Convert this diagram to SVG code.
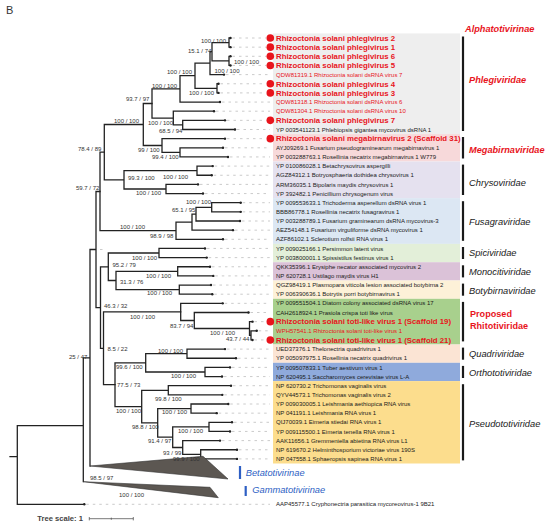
<svg xmlns="http://www.w3.org/2000/svg" width="550" height="528" viewBox="0 0 550 528">
<style>
text{font-family:"Liberation Sans",Arial,sans-serif}
.br{stroke:#222;stroke-width:1.3;fill:none;stroke-linecap:square}
.tip{fill:#222}
.dash{stroke:#b4b4b4;stroke-width:0.7;stroke-dasharray:2.5 4;fill:none}
.lb{font-size:6px;fill:#1a1a1a}
.rl{font-size:6px;fill:#e8141c}
.rb{font-size:7.8px;font-weight:bold;fill:#e8141c}
.dot{fill:#e8141c}
.bs{font-size:6px;fill:#333}
.fam{font-size:9.3px;font-style:italic;fill:#1a1a1a}
.famr{font-size:9.2px;font-style:italic;font-weight:bold;fill:#e8141c}
.famb{font-size:9.3px;font-style:italic;fill:#2e5fc4}
.bar{stroke:#1a1a1a;stroke-width:2.2}
.bbar{stroke:#2e5fc4;stroke-width:2.2}
.wedge{fill:#5c5752;stroke:#333;stroke-width:0.6}
</style>
<rect width="550" height="528" fill="#fff"/>
<text x="6" y="13.5" font-size="11" fill="#333">B</text>

<g id="bands">
<rect x="273" y="33.4" width="187" height="100.7" fill="#eeeeee"/>
<rect x="273" y="134.1" width="187" height="27.4" fill="#f7d9da"/>
<rect x="273" y="161.5" width="187" height="36.6" fill="#e5e1ef"/>
<rect x="273" y="198.1" width="187" height="45.8" fill="#dce7f3"/>
<rect x="273" y="243.9" width="187" height="18.3" fill="#e3efd9"/>
<rect x="273" y="262.2" width="187" height="18.3" fill="#dbc2d8"/>
<rect x="273" y="280.5" width="187" height="18.3" fill="#fdf1d8"/>
<rect x="273" y="298.8" width="187" height="45.7" fill="#a8d08d"/>
<rect x="273" y="344.5" width="187" height="18.3" fill="#fbe4d4"/>
<rect x="273" y="362.8" width="187" height="18.3" fill="#8faadc"/>
<rect x="273" y="381.1" width="187" height="82.4" fill="#fcdd8d"/>
</g>

<g id="connectors">
<path class="br" d="M229 38V47.15M229 38H230.5M229 47.15H230.5M229 56.3V65.45M229 56.3H230.5M229 65.45H230.5M212 42.6V60.9M212 42.6H229M212 60.9H229M210 51.7V74.6M210 51.7H212M210 74.6H224M217 83.75V92.9M217 83.75H218.5M217 92.9H218.5M195 63.2V88.3M195 63.2H210M195 88.3H217M180 75.7V102.05M180 75.7H195M180 102.05H220M182.7 120.35V129.5M182.7 120.35H225M182.7 129.5H235M173.3 111.2V124.9M173.3 111.2H214M173.3 124.9H182.7M152 88.9V118.1M152 88.9H180M152 118.1H173.3"/>
<path class="br" d="M180 147.8V156.95M180 147.8H223M180 156.95H228M162 138.65V152.4M162 138.65H225M162 152.4H180M143.3 103.5V145.5M143.3 103.5H152M143.3 145.5H162M197 166.1V175.25M197 166.1H212.7M197 175.25H211.7M166 184.4V193.55M166 184.4H198M166 193.55H203M124 170.7V189M124 170.7H197M124 189H166M104.3 124.5V179.8M104.3 124.5H143.3M104.3 179.8H124"/>
<path class="br" d="M211.7 202.7V211.85M211.7 202.7H240.7M211.7 211.85H240.7M196 207.3V221M196 207.3H211.7M196 221H240M192 214.1V230.15M192 214.1H196M192 230.15H233M176 222.1V239.3M176 222.1H192M176 239.3H223M100 152.2V230.7M100 152.2H104.3M100 230.7H176"/>
<path class="br" d="M159 248.45V257.6M159 248.45H205M159 257.6H206.7M177.7 266.75V275.9M177.7 266.75H210M177.7 275.9H213.3M179.3 285.05V294.2M179.3 285.05H211M179.3 294.2H212.3M116 271.3V289.6M116 271.3H177.7M116 289.6H179.3M108.3 253V280.5M108.3 253H159M108.3 280.5H116"/>
<path class="br" d="M251 330.8V339.95M251 330.8H256.7M251 339.95H252.5M249.5 321.65V335.4M249.5 321.65H252.5M249.5 335.4H251M194.3 312.5V328.5M194.3 312.5H248.5M194.3 328.5H249.5M180.7 303.35V320.5M180.7 303.35H222.7M180.7 320.5H194.3"/>
<path class="br" d="M187 349.1V358.25M187 349.1H225M187 358.25H236M205 367.4V376.55M205 367.4H230M205 376.55H222M145.7 353.7V372M145.7 353.7H187M145.7 372H205M168.3 385.7V394.85M168.3 385.7H231M168.3 394.85H222.3M191 404V413.15M191 404H228.3M191 413.15H216.7M209 422.3V431.45M209 422.3H232M209 431.45H230M200.7 449.75V458.9M200.7 449.75H237M200.7 458.9H237M182.7 440.6V454.3M182.7 440.6H220M182.7 454.3H200.7M172.7 426.9V447.5M172.7 426.9H209M172.7 447.5H182.7M157.7 408.6V437.2M157.7 408.6H191M157.7 437.2H172.7M141.7 390.3V422.9M141.7 390.3H168.3M141.7 422.9H157.7M115 362.8V406.6M115 362.8H145.7M115 406.6H141.7"/>
<path class="br" d="M103.5 311.9V384.7M103.5 311.9H180.7M103.5 384.7H115M100.5 266.8V348.3M100.5 266.8H108.3M100.5 348.3H103.5M96 191.5V307.6M96 191.5H100M96 307.6H100.5M90 249.5V466M90 249.5H96M83.3 357.8V481.7M83.3 357.8H90M17.3 425.7V504.3M17.3 425.7H83.3M17.3 504.3H84.3M10 456.7H17.3"/>
<path class="dash" d="M100 249.5H106"/>
<polygon class="wedge" points="90,466 203,456.3 228,479"/>
<polygon class="wedge" points="83.3,481.7 210,487.3 218.3,497.7"/>
<g class="tip">
<circle cx="230.5" cy="38" r="1.2"/><circle cx="230.5" cy="47.15" r="1.2"/><circle cx="230.5" cy="56.3" r="1.2"/><circle cx="230.5" cy="65.45" r="1.2"/><circle cx="224" cy="74.6" r="1.2"/><circle cx="218.5" cy="83.75" r="1.2"/><circle cx="218.5" cy="92.9" r="1.2"/><circle cx="220" cy="102.05" r="1.2"/><circle cx="214" cy="111.2" r="1.2"/><circle cx="225" cy="120.35" r="1.2"/><circle cx="235" cy="129.5" r="1.2"/><circle cx="225" cy="138.65" r="1.2"/><circle cx="223" cy="147.8" r="1.2"/><circle cx="228" cy="156.95" r="1.2"/><circle cx="212.7" cy="166.1" r="1.2"/><circle cx="211.7" cy="175.25" r="1.2"/><circle cx="198" cy="184.4" r="1.2"/><circle cx="203" cy="193.55" r="1.2"/><circle cx="240.7" cy="202.7" r="1.2"/><circle cx="240.7" cy="211.85" r="1.2"/><circle cx="240" cy="221" r="1.2"/><circle cx="233" cy="230.15" r="1.2"/><circle cx="223" cy="239.3" r="1.2"/><circle cx="205" cy="248.45" r="1.2"/><circle cx="206.7" cy="257.6" r="1.2"/><circle cx="210" cy="266.75" r="1.2"/><circle cx="213.3" cy="275.9" r="1.2"/><circle cx="211" cy="285.05" r="1.2"/><circle cx="212.3" cy="294.2" r="1.2"/><circle cx="222.7" cy="303.35" r="1.2"/><circle cx="248.5" cy="312.5" r="1.2"/><circle cx="252.5" cy="321.65" r="1.2"/><circle cx="256.7" cy="330.8" r="1.2"/><circle cx="252.5" cy="339.95" r="1.2"/><circle cx="225" cy="349.1" r="1.2"/><circle cx="236" cy="358.25" r="1.2"/><circle cx="230" cy="367.4" r="1.2"/><circle cx="222" cy="376.55" r="1.2"/><circle cx="231" cy="385.7" r="1.2"/><circle cx="222.3" cy="394.85" r="1.2"/><circle cx="228.3" cy="404" r="1.2"/><circle cx="216.7" cy="413.15" r="1.2"/><circle cx="232" cy="422.3" r="1.2"/><circle cx="230" cy="431.45" r="1.2"/><circle cx="220" cy="440.6" r="1.2"/><circle cx="237" cy="449.75" r="1.2"/><circle cx="237" cy="458.9" r="1.2"/><circle cx="84.3" cy="504.3" r="1.2"/>
</g>
<path class="dash" d="M232.5 38H266M232.5 47.15H266M232.5 56.3H266M232.5 65.45H266M226 74.6H270M220.5 83.75H266M220.5 92.9H266M222 102.05H270M216 111.2H270M227 120.35H266M237 129.5H270M227 138.65H266M225 147.8H270M230 156.95H270M214.7 166.1H270M213.7 175.25H270M200 184.4H270M205 193.55H270M242.7 202.7H270M242.7 211.85H270M242 221H270M235 230.15H270M225 239.3H270M207 248.45H270M208.7 257.6H270M212 266.75H270M215.3 275.9H270M213 285.05H270M214.3 294.2H270M224.7 303.35H270M250.5 312.5H270M254.5 321.65H266M258.7 330.8H270M254.5 339.95H266M227 349.1H270M238 358.25H270M232 367.4H270M224 376.55H270M233 385.7H270M224.3 394.85H270M230.3 404H270M218.7 413.15H270M234 422.3H270M232 431.45H270M222 440.6H270M239 449.75H270M239 458.9H270M86.3 504.3H270"/>
</g>

<g id="support-values" class="bs">
<text x="201" y="42.8">100 / 100</text>
<text x="188" y="52.8">15.1 / 74</text>
<text x="234" y="64.1">100 / 100</text>
<text x="214.5" y="72.6">100 / 100</text>
<text x="167" y="74.1">100 / 100</text>
<text x="189" y="95.1">100 / 100</text>
<text x="152" y="88.1">100 / 100</text>
<text x="126" y="101.4">93.7 / 97</text>
<text x="148" y="124.6">100 / 100</text>
<text x="114" y="122.8">100 / 100</text>
<text x="159" y="132.8">68.5 / 94</text>
<text x="78" y="151.4">78.4 / 89</text>
<text x="138" y="152.1">99 / 100</text>
<text x="152" y="159.4">99.4 / 100</text>
<text x="163" y="178.8">100 / 100</text>
<text x="128" y="180.4">99.3 / 100</text>
<text x="76" y="190.1">59.7 / 72</text>
<text x="136" y="195.4">100 / 100</text>
<text x="186" y="204.4">100 / 100</text>
<text x="172" y="212.1">65.1 / 95</text>
<text x="120" y="229.4">100 / 100</text>
<text x="150" y="237.8">98.9 / 98</text>
<text x="132" y="260.4">100 / 100</text>
<text x="112.5" y="267.4">95.2 / 79</text>
<text x="146" y="278.1">100 / 100</text>
<text x="120" y="284.4">31.3 / 76</text>
<text x="147" y="295.4">100 / 100</text>
<text x="104" y="308.1">46.3 / 32</text>
<text x="130" y="318.8">100 / 100</text>
<text x="170" y="327.8">83.7 / 94</text>
<text x="210" y="335.2">100 / 100</text>
<text x="226" y="341.1">43.7 / 44</text>
<text x="107.5" y="350.6">8.5 / 22</text>
<text x="158" y="352.8">100 / 100</text>
<text x="69" y="359.4">25 / 47</text>
<text x="116" y="368.8">99.6 / 100</text>
<text x="171" y="378.1">100 / 100</text>
<text x="117" y="387.1">77.5 / 73</text>
<text x="155" y="401.1">99.8 / 100</text>
<text x="116" y="412.8">100 / 100</text>
<text x="162" y="414.4">100 / 100</text>
<text x="132" y="428.8">98.8 / 100</text>
<text x="178" y="433.1">100 / 100</text>
<text x="148" y="443.1">91.4 / 97</text>
<text x="163" y="454.8">93 / 99</text>
<text x="173" y="461.1">99.9 / 100</text>
<text x="90" y="479.8">98.5 / 97</text>
<text x="119" y="497.4">100 / 100</text>
</g>

<g id="leaves">
<g id="leaf01"><circle class="dot" cx="270.3" cy="38" r="3.8"/><text class="rb" x="276" y="40.8">Rhizoctonia solani phlegivirus 2</text></g>
<g id="leaf02"><circle class="dot" cx="270.3" cy="47.15" r="3.8"/><text class="rb" x="276" y="49.95">Rhizoctonia solani phlegivirus 1</text></g>
<g id="leaf03"><circle class="dot" cx="270.3" cy="56.3" r="3.8"/><text class="rb" x="276" y="59.1">Rhizoctonia solani phlegivirus 6</text></g>
<g id="leaf04"><circle class="dot" cx="270.3" cy="65.45" r="3.8"/><text class="rb" x="276" y="68.25">Rhizoctonia solani phlegivirus 5</text></g>
<g id="leaf05"><text class="rl" x="276" y="76.7">QDW81319.1 Rhizoctonia solani dsRNA virus 7</text></g>
<g id="leaf06"><circle class="dot" cx="270.3" cy="83.75" r="3.8"/><text class="rb" x="276" y="86.55">Rhizoctonia solani phlegivirus 4</text></g>
<g id="leaf07"><circle class="dot" cx="270.3" cy="92.9" r="3.8"/><text class="rb" x="276" y="95.7">Rhizoctonia solani phlegivirus 3</text></g>
<g id="leaf08"><text class="rl" x="276" y="104.15">QDW81318.1 Rhizoctonia solani dsRNA virus 6</text></g>
<g id="leaf09"><text class="rl" x="276" y="113.3">QDW81304.1 Rhizoctonia solani dsRNA virus 10</text></g>
<g id="leaf10"><circle class="dot" cx="270.3" cy="120.35" r="3.8"/><text class="rb" x="276" y="123.15">Rhizoctonia solani phlegivirus 7</text></g>
<g id="leaf11"><text class="lb" x="276" y="131.6">YP 003541123.1 Phlebiopsis gigantea mycovirus dsRNA 1</text></g>
<g id="leaf12"><circle class="dot" cx="270.3" cy="138.65" r="3.8"/><text class="rb" x="276" y="141.45">Rhizoctonia solani megabirnavirus 2 (Scaffold 31)</text></g>
<g id="leaf13"><text class="lb" x="276" y="149.9">AYJ09269.1 Fusarium pseudograminearum megabirnavirus 1</text></g>
<g id="leaf14"><text class="lb" x="276" y="159.05">YP 003288763.1 Rosellinia necatrix megabirnavirus 1 W779</text></g>
<g id="leaf15"><text class="lb" x="276" y="168.2">YP 010086028.1 Betachrysovirus aspergilli</text></g>
<g id="leaf16"><text class="lb" x="276" y="177.35">AGZ84312.1 Botryosphaeria dothidea chrysovirus 1</text></g>
<g id="leaf17"><text class="lb" x="276" y="186.5">ARM36035.1 Bipolaris maydis chrysovirus 1</text></g>
<g id="leaf18"><text class="lb" x="276" y="195.65">YP 392482.1 Penicillium chrysogenum virus</text></g>
<g id="leaf19"><text class="lb" x="276" y="204.8">YP 009553633.1 Trichoderma asperellum dsRNA virus 1</text></g>
<g id="leaf20"><text class="lb" x="276" y="213.95">BBB86778.1 Rosellinia necatrix fusagravirus 1</text></g>
<g id="leaf21"><text class="lb" x="276" y="223.1">YP 003288789.1 Fusarium graminearum dsRNA mycovirus-3</text></g>
<g id="leaf22"><text class="lb" x="276" y="232.25">AEZ54148.1 Fusarium virguliforme dsRNA mycovirus 1</text></g>
<g id="leaf23"><text class="lb" x="276" y="241.4">AZF86102.1 Sclerotium rolfsii RNA virus 1</text></g>
<g id="leaf24"><text class="lb" x="276" y="250.55">YP 009025166.1 Persimmon latent virus</text></g>
<g id="leaf25"><text class="lb" x="276" y="259.7">YP 003800001.1 Spissistilus festinus virus 1</text></g>
<g id="leaf26"><text class="lb" x="276" y="268.85">QKK35396.1 Erysiphe necator associated mycovirus 2</text></g>
<g id="leaf27"><text class="lb" x="276" y="278">NP 620728.1 Ustilago maydis virus H1</text></g>
<g id="leaf28"><text class="lb" x="276" y="287.15">QGZ98419.1 Plasmopara viticola lesion associated botybirna 2</text></g>
<g id="leaf29"><text class="lb" x="276" y="296.3">YP 006390636.1 Botrytis porri botybirnavirus 1</text></g>
<g id="leaf30"><text class="lb" x="276" y="305.45">YP 009551504.1 Diatom colony associated dsRNA virus 17</text></g>
<g id="leaf31"><text class="lb" x="276" y="314.6">CAH2618924.1 Prasiola crispa toti like virus</text></g>
<g id="leaf32"><circle class="dot" cx="270.3" cy="321.65" r="3.8"/><text class="rb" x="276" y="324.45">Rhizoctonia solani toti-like virus 1 (Scaffold 19)</text></g>
<g id="leaf33"><text class="rl" x="276" y="332.9">WPH57541.1 Rhizoctonia solani toti-like virus 1</text></g>
<g id="leaf34"><circle class="dot" cx="270.3" cy="339.95" r="3.8"/><text class="rb" x="276" y="342.75">Rhizoctonia solani toti-like virus 1 (Scaffold 21)</text></g>
<g id="leaf35"><text class="lb" x="276" y="351.2">UED37376.1 Thelonectria quadrivirus 1</text></g>
<g id="leaf36"><text class="lb" x="276" y="360.35">YP 005097975.1 Rosellinia necatrix quadrivirus 1</text></g>
<g id="leaf37"><text class="lb" x="276" y="369.5">YP 009507833.1 Tuber aestivum virus 1</text></g>
<g id="leaf38"><text class="lb" x="276" y="378.65">NP 620495.1 Saccharomyces cerevisiae virus L-A</text></g>
<g id="leaf39"><text class="lb" x="276" y="387.8">NP 620730.2 Trichomonas vaginalis virus</text></g>
<g id="leaf40"><text class="lb" x="276" y="396.95">QYV44573.1 Trichomonas vaginalis virus 2</text></g>
<g id="leaf41"><text class="lb" x="276" y="406.1">YP 009030005.1 Leishmania aethiopica RNA virus</text></g>
<g id="leaf42"><text class="lb" x="276" y="415.25">NP 041191.1 Leishmania RNA virus 1</text></g>
<g id="leaf43"><text class="lb" x="276" y="424.4">QIJ70039.1 Eimeria stiedai RNA virus 1</text></g>
<g id="leaf44"><text class="lb" x="276" y="433.55">YP 009115500.1 Eimeria tenella RNA virus 1</text></g>
<g id="leaf45"><text class="lb" x="276" y="442.7">AAK11656.1 Gremmeniella abietina RNA virus L1</text></g>
<g id="leaf46"><text class="lb" x="276" y="451.85">NP 619670.2 Helminthosporium victoriae virus 190S</text></g>
<g id="leaf47"><text class="lb" x="276" y="461">NP 047558.1 Sphaeropsis sapinea RNA virus 1</text></g>
<g id="outgroup"><text class="lb" x="276" y="506.4">AAP45577.1 Cryphonectria parasitica mycoreovirus-1 9B21</text></g>
</g>

<g id="clade-labels">
<g id="alphatotivirinae"><text class="famr" x="465" y="31.6">Alphatotivirinae</text></g>
<g id="phlegiviridae"><line class="bar" x1="463" y1="36.5" x2="463" y2="131"/><text class="famr" x="469" y="83.3">Phlegiviridae</text></g>
<g id="megabirnaviridae"><line class="bar" x1="463" y1="137" x2="463" y2="158.5"/><text class="famr" x="469" y="152.6">Megabirnaviridae</text></g>
<g id="chrysoviridae"><line class="bar" x1="463" y1="164.6" x2="463" y2="195"/><text class="fam" x="469" y="185.9" font-size="10.3">Chrysoviridae</text></g>
<g id="fusagraviridae"><line class="bar" x1="463" y1="201.2" x2="463" y2="240.8"/><text class="fam" x="469" y="225">Fusagraviridae</text></g>
<g id="spiciviridae"><line class="bar" x1="463" y1="247" x2="463" y2="259"/><text class="fam" x="469" y="256">Spiciviridae</text></g>
<g id="monocitiviridae"><line class="bar" x1="463" y1="265.3" x2="463" y2="277.4"/><text class="fam" x="469" y="275">Monocitiviridae</text></g>
<g id="botybirnaviridae"><line class="bar" x1="463" y1="283.6" x2="463" y2="295.7"/><text class="fam" x="469" y="294">Botybirnaviridae</text></g>
<g id="rhitotiviridae"><line class="bar" x1="463" y1="301.9" x2="463" y2="341.4"/><text font-size="9.1" font-weight="bold" fill="#e8141c" x="470" y="317.3">Proposed</text><text font-size="9.1" font-weight="bold" fill="#e8141c" x="470" y="328.8">Rhitotiviridae</text></g>
<g id="quadriviridae"><line class="bar" x1="463" y1="347.6" x2="463" y2="359.7"/><text class="fam" x="469" y="356.6">Quadriviridae</text></g>
<g id="orthototiviridae"><line class="bar" x1="463" y1="365.9" x2="463" y2="378"/><text class="fam" x="469" y="376">Orthototiviridae</text></g>
<g id="pseudototiviridae"><line class="bar" x1="463" y1="384.2" x2="463" y2="460.4"/><text class="fam" x="469" y="427.3">Pseudototiviridae</text></g>
<g id="betatotivirinae"><line class="bbar" x1="240" y1="466" x2="240" y2="479"/><text class="famb" x="245.7" y="476">Betatotivirinae</text></g>
<g id="gammatotivirinae"><line class="bbar" x1="245.7" y1="486" x2="245.7" y2="496"/><text class="famb" x="252.3" y="493.3">Gammatotivirinae</text></g>
</g>

<g id="tree-scale">
<text x="37.3" y="521.4" font-size="7.6" font-weight="bold" fill="#444">Tree scale: 1</text>
<path d="M89.3 518.7H133.3M89.3 517V520.4M111.3 517.6V519.8M133.3 517V520.4" stroke="#555" stroke-width="0.8" fill="none"/>
</g>
</svg>
